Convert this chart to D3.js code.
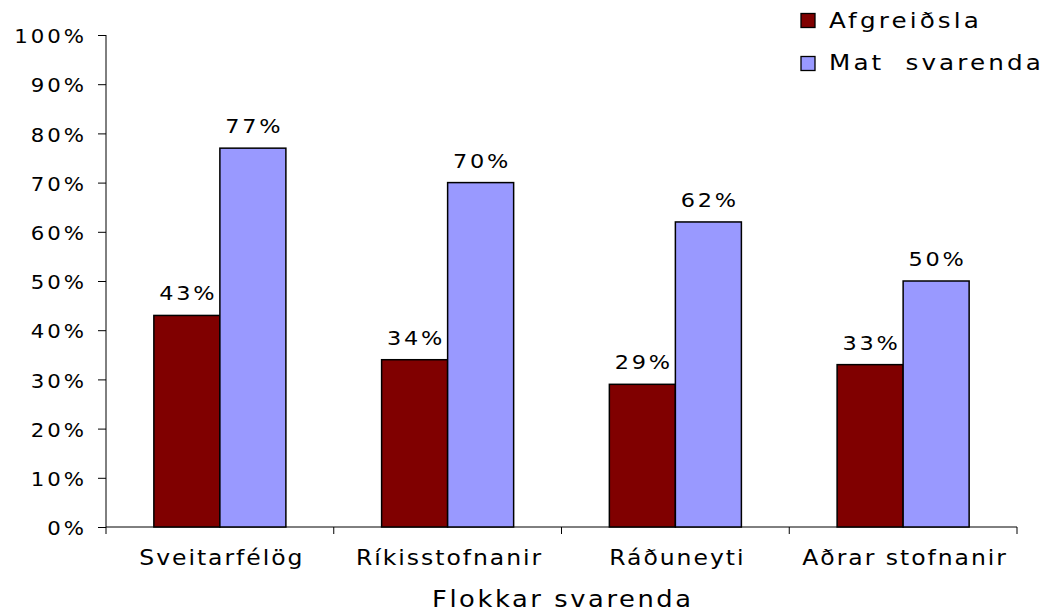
<!DOCTYPE html>
<html><head><meta charset="utf-8">
<script src="https://cdn.jsdelivr.net/npm/d3@7"></script>
<style>body{margin:0;background:#fff}svg{display:block;font-family:"DejaVu Sans",sans-serif}</style>
</head><body><svg id="c" width="1055" height="612"></svg>
<script>
const categories = ["Sveitarfélög","Ríkisstofnanir","Ráðuneyti","Aðrar stofnanir"];
const seriesNames = ["Afgreiðsla","Mat svarenda"];
const afgreidsla = [43,34,29,33];
const matSvarenda = [77,70,62,50];
const colors = ["#800000","#9999FF"];
const yTicks = [0,10,20,30,40,50,60,70,80,90,100];
const xTitle = "Flokkar svarenda";

const svg = d3.select("#c");
const L=106, R=1017, T=35, B=527;
const x = d3.scaleBand().domain(categories).range([L,R]);
const x1 = d3.scaleBand().domain(seriesNames).range([0,x.bandwidth()]).paddingOuter(0.725);
const y = d3.scaleLinear().domain([0,100]).range([B,T]);
const values = [afgreidsla, matSvarenda];

// horizontally stretch text around its anchor point, with letter spacing
function stretch(sel, sx, ls, anchor){
  sel.each(function(){
    const t = d3.select(this);
    const tx = +t.attr("x")||0, ty = +t.attr("y")||0;
    const off = anchor==="middle" ? ls/2 : anchor==="end" ? ls : 0;
    t.attr("x",off).attr("y",0).attr("letter-spacing",ls+"px")
     .attr("transform",`translate(${tx},${ty}) scale(${sx},1)`);
  });
}
const SX = 1.12;

// y axis
const ya = svg.append("g").attr("transform",`translate(${L},0)`)
  .call(d3.axisLeft(y).tickValues(yTicks).tickFormat(d=>d+"%").tickSize(8).tickPadding(0));
ya.select(".domain").attr("stroke","#000").attr("d",`M0,${T}V${B}`);
ya.selectAll(".tick line").attr("stroke","#000");
ya.selectAll(".tick text").attr("font-size",19).attr("fill","#000")
  .attr("font-family","DejaVu Sans").attr("x",-22).attr("y",1).attr("dy","0.35em");
stretch(ya.selectAll(".tick text"),SX,2.7,"end");

// x axis
const xa = svg.append("g").attr("transform",`translate(0,${B})`)
  .call(d3.axisBottom(x).tickSize(0).tickPadding(0));
xa.select(".domain").attr("stroke","#000").attr("d",`M${L},0H${R}`);
xa.selectAll(".tick text").attr("font-size",21).attr("fill","#000")
  .attr("font-family","DejaVu Sans").attr("y",38).attr("dy",0).attr("x",1);
stretch(xa.selectAll(".tick text"),SX,1.75,"middle");
const bounds = categories.map(c=>x(c)).concat([R]);
xa.selectAll("line.sep").data(bounds).join("line").attr("class","sep")
  .attr("x1",d=>d).attr("x2",d=>d).attr("y1",0).attr("y2",7).attr("stroke","#000");

// bars
const groups = svg.append("g").selectAll("g").data(categories).join("g")
  .attr("transform",c=>`translate(${x(c)},0)`);
seriesNames.forEach((s,si)=>{
  groups.append("rect")
    .attr("x",x1(s)).attr("width",x1.bandwidth())
    .attr("y",(c,i)=>y(values[si][i])).attr("height",(c,i)=>B-y(values[si][i]))
    .attr("fill",colors[si]).attr("stroke","#000").attr("stroke-width",1.5);
  const lab = groups.append("text")
    .attr("x",x1(s)+x1.bandwidth()/2).attr("y",(c,i)=>y(values[si][i])-15)
    .attr("text-anchor","middle").attr("font-size",20).attr("fill","#000")
    .text((c,i)=>values[si][i]+"%");
  stretch(lab,SX,2.5,"middle");
});

// x title
const tt = svg.append("text").attr("x",(L+R)/2).attr("y",607).attr("text-anchor","middle")
  .attr("font-size",23).attr("fill","#000").text(xTitle);
stretch(tt,SX,2.3,"middle");

// legend
const lg = svg.append("g");
seriesNames.forEach((s,i)=>{
  lg.append("rect").attr("x",801).attr("y",13.5+i*43).attr("width",14).attr("height",14)
    .attr("fill",colors[i]).attr("stroke","#000").attr("stroke-width",1.3);
  const lt = lg.append("text").attr("x",829).attr("y",28+i*42).attr("font-size",22)
    .attr("fill","#000").attr("word-spacing","9px").text(s);
  stretch(lt,SX,2.8,"start");
});
</script></body></html>
